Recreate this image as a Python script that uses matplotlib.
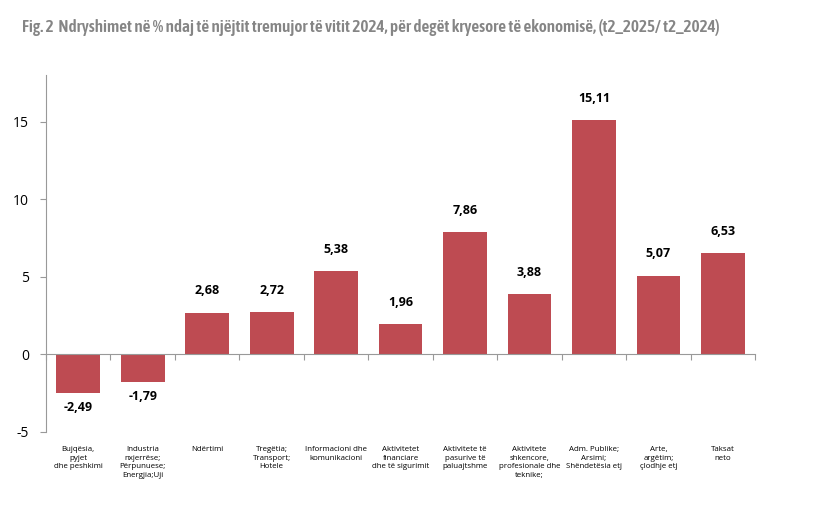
import matplotlib
matplotlib.use('Agg')
import matplotlib.pyplot as plt
from matplotlib import font_manager

plt.rcParams['axes.unicode_minus'] = False

categories = [
    "Bujqësia,\npyjet\ndhe peshkimi",
    "Industria\nnxjerrëse;\nPërpunuese;\nEnergjia;Uji",
    "Ndërtimi",
    "Tregëtia;\nTransport;\nHotele",
    "Informacioni dhe\nkomunikacioni",
    "Aktivitetet\nfinanciare\ndhe të sigurimit",
    "Aktivitete të\npasurive të\npaluajtshme",
    "Aktivitete\nshkencore,\nprofesionale dhe\nteknike;",
    "Adm. Publike;\nArsimi;\nShëndetësia etj",
    "Arte,\nargëtim;\nçlodhje etj",
    "Taksat\nneto",
]
values = [-2.49, -1.79, 2.68, 2.72, 5.38, 1.96, 7.86, 3.88, 15.11, 5.07, 6.53]
yticks = [-5, 0, 5, 10, 15]

title = "Fig. 2  Ndryshimet në % ndaj të njëjtit tremujor të vitit 2024, për degët kryesore të ekonomisë, (t2_2025/ t2_2024)"

# look for a narrow font for the title (the original uses Arial Narrow), bold if possible
narrow = [f for f in font_manager.fontManager.ttflist
          if 'Narrow' in f.name or 'Condensed' in f.name or f.stretch == 'condensed']
narrow.sort(key=lambda f: abs(f.weight - 600) if isinstance(f.weight, int) else 999)
if narrow:
    title_font, title_weight, title_stretch = narrow[0].name, narrow[0].weight, narrow[0].stretch
else:
    title_font, title_weight, title_stretch = "Liberation Sans", 'bold', 'normal'
body_font = "Open Sans"

fig = plt.figure(figsize=(8.2, 5.21), dpi=100)
ax = fig.add_axes([0.056, 0.171, 0.865, 0.685])

x = list(range(len(values)))
ax.bar(x, values, width=0.68, color="#BE4B52", zorder=2)

ax.set_xlim(-0.5, len(values) - 0.5)
ax.set_ylim(-5, 18)
ax.set_yticks(yticks)
ax.tick_params(axis='y', direction='out', length=4, color='#999999', labelsize=10, pad=8)
for lbl in ax.get_yticklabels():
    lbl.set_fontfamily(body_font)

ax.spines['top'].set_visible(False)
ax.spines['right'].set_visible(False)
ax.spines['left'].set_color('#999999')
ax.spines['bottom'].set_position(('data', 0))
ax.spines['bottom'].set_color('#999999')
ax.set_xticks([i + 0.5 for i in range(-1, len(values))])
ax.set_xticklabels([])
ax.tick_params(axis='x', direction='out', length=4, color='#999999')

for xi, v in zip(x, values):
    label = f"{v:.2f}".replace('.', ',')
    if v >= 0:
        ax.annotate(label, (xi, v), xytext=(0, 11), textcoords='offset points',
                    ha='center', va='bottom', fontsize=9, fontweight='bold',
                    family=body_font)
    else:
        ax.annotate(label, (xi, v), xytext=(0, -6), textcoords='offset points',
                    ha='center', va='top', fontsize=9, fontweight='bold',
                    family=body_font)

for xi, cat in zip(x, categories):
    ax.annotate(cat, (xi, 0), xycoords=('data', 'axes fraction'),
                xytext=(0, -10), textcoords='offset points',
                ha='center', va='top', fontsize=5.7, family=body_font,
                linespacing=1.35)

t = fig.text(0.027, 0.948, title, fontsize=12, color='#858585', family=title_font,
             fontstretch=title_stretch, fontweight=title_weight, ha='left', va='center')

# fit the title to about the same width as in the original
renderer = fig.canvas.get_renderer()
w = t.get_window_extent(renderer).width
t.set_fontsize(min(13.5, 12 * 696 / w))

fig.savefig('out.png', dpi=100)
